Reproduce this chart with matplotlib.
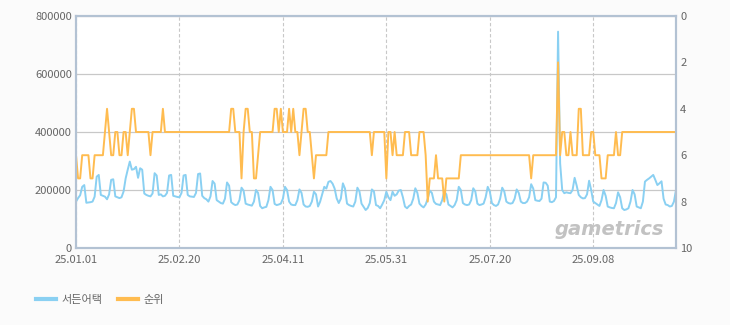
import numpy as np
import pandas as pd
import matplotlib
matplotlib.use('Agg')
import matplotlib.pyplot as plt
from matplotlib.lines import Line2D

plt.rcParams['font.family'] = ['Noto Sans CJK KR', 'DejaVu Sans']

# daily users (thousands), one row per week (Mon..Sun), starting Wed 2025-01-01
users_k = [
    160, 172, 182, 211, 217,
    156, 157, 158, 160, 177, 246, 252,
    183, 180, 177, 168, 185, 235, 237,
    178, 175, 172, 175, 195, 240, 270,
    298, 270, 272, 280, 242, 275, 270,
    188, 183, 180, 178, 188, 258, 250,
    183, 185, 178, 180, 190, 250, 252,
    180, 178, 176, 175, 190, 250, 252,
    183, 178, 177, 176, 190, 255, 257,
    180, 172, 168, 160, 178, 231, 222,
    165, 160, 155, 153, 170, 226, 215,
    158, 152, 148, 150, 165, 208, 198,
    153, 150, 148, 146, 160, 200, 190,
    145, 137, 140, 142, 165, 211, 200,
    152, 148, 150, 153, 170, 211, 200,
    160, 150, 148, 148, 165, 202, 190,
    150, 143, 142, 145, 160, 194, 185,
    143, 160, 185, 211, 205, 228, 231,
    222, 205, 171, 155, 170, 223, 205,
    153, 148, 145, 143, 160, 208, 195,
    153, 142, 131, 138, 155, 202, 195,
    148, 145, 137, 150, 165, 194, 175,
    165, 194, 180, 185, 198, 200, 175,
    143, 137, 145, 150, 170, 206, 190,
    153, 145, 140, 150, 170, 198, 190,
    160, 152, 150, 148, 165, 195, 185,
    150, 145, 140, 148, 165, 211, 200,
    155, 150, 148, 150, 165, 206, 195,
    153, 148, 150, 153, 175, 211, 195,
    155, 148, 145, 150, 170, 208, 195,
    160, 155, 153, 155, 170, 202, 190,
    160, 155, 155, 160, 175, 220, 205,
    165, 163, 162, 170, 226, 225, 215,
    160, 158, 162, 175, 746, 292, 200,
    189, 192, 190, 189, 200, 242, 215,
    183, 175, 171, 172, 185, 232, 200,
    160, 155, 150, 145, 165, 200, 180,
    143, 140, 138, 137, 155, 192, 175,
    137, 131, 133, 137, 160, 200, 185,
    143, 140, 137, 160, 229, 235, 240,
    246, 252, 235, 217, 223, 230, 170,
    150, 148, 143, 145, 160, 200,
]

rank = [
    6, 7, 7, 6, 6,
    6, 6, 7, 7, 6, 6, 6,
    6, 6, 5, 4, 5, 6, 6,
    5, 5, 6, 6, 5, 5, 6,
    5, 4, 4, 5, 5, 5, 5,
    5, 5, 5, 6, 5, 5, 5,
    5, 5, 4, 5, 5, 5, 5,
    5, 5, 5, 5, 5, 5, 5,
    5, 5, 5, 5, 5, 5, 5,
    5, 5, 5, 5, 5, 5, 5,
    5, 5, 5, 5, 5, 5, 5,
    4, 4, 5, 5, 5, 7, 5,
    4, 4, 5, 5, 7, 7, 6,
    5, 5, 5, 5, 5, 5, 5,
    4, 4, 5, 4, 5, 5, 5,
    4, 5, 4, 5, 5, 6, 5,
    4, 4, 5, 5, 6, 7, 6,
    6, 6, 6, 6, 6, 5, 5,
    5, 5, 5, 5, 5, 5, 5,
    5, 5, 5, 5, 5, 5, 5,
    5, 5, 5, 5, 5, 6, 5,
    5, 5, 5, 5, 5, 7, 5,
    5, 6, 5, 6, 6, 6, 6,
    5, 5, 5, 6, 6, 6, 6,
    5, 5, 5, 6, 8, 7, 7,
    7, 6, 7, 7, 7, 8, 7,
    7, 7, 7, 7, 7, 7, 6,
    6, 6, 6, 6, 6, 6, 6,
    6, 6, 6, 6, 6, 6, 6,
    6, 6, 6, 6, 6, 6, 6,
    6, 6, 6, 6, 6, 6, 6,
    6, 6, 6, 6, 6, 7, 6,
    6, 6, 6, 6, 6, 6, 6,
    6, 6, 6, 6, 2, 6, 5,
    5, 6, 6, 5, 6, 6, 6,
    4, 4, 6, 6, 6, 6, 5,
    5, 6, 6, 6, 7, 7, 7,
    6, 6, 6, 6, 5, 6, 6,
    5, 5, 5, 5, 5, 5, 5,
    5, 5, 5, 5, 5, 5, 5,
    5, 5, 5, 5, 5, 5, 5,
    5, 5, 5, 5, 5, 5,
]

tick_dates = pd.to_datetime(['2025-01-01', '2025-02-20', '2025-04-11',
                             '2025-05-31', '2025-07-20', '2025-09-08'])
tick_labels = [d.strftime('%y.%m.%d') for d in tick_dates]
series_names = ['서든어택', '순위']

dates = pd.date_range('2025-01-01', periods=len(users_k), freq='D')
users = np.array(users_k) * 1000

blue = '#8ad0f2'
orange = '#ffbc50'
grey = '#666666'
spine_c = '#b3c2d3'

fig = plt.figure(figsize=(7.3, 3.25), dpi=100, facecolor='#fbfbfb')
ax = fig.add_axes([76 / 730, 77 / 325, 600 / 730, 232 / 325])
ax.set_facecolor('#ffffff')
ax2 = ax.twinx()

ax.plot(dates, users, color=blue, lw=1.4, solid_joinstyle='round')
ax2.plot(dates, rank, color=orange, lw=1.4, solid_joinstyle='round')

ax.set_xlim(dates[0], dates[-1])
ax.set_ylim(0, 800000)
ax.set_yticks(range(0, 800001, 200000))
ax2.set_ylim(10, 0)
ax2.set_yticks(range(0, 11, 2))
ax.set_xticks(tick_dates)
ax.set_xticklabels(tick_labels)

ax.grid(axis='y', color='#c8c8c8', lw=0.9)
ax.grid(axis='x', color='#c8c8c8', lw=0.8, ls=(0, (3, 2)))
ax.set_axisbelow(True)

for a in (ax, ax2):
    a.tick_params(length=0, labelsize=8, labelcolor=grey, pad=3)
    for s in a.spines.values():
        s.set_color(spine_c)
        s.set_linewidth(1.5)
ax.tick_params(axis='x', pad=5)

ax.text(0.98, 0.04, 'gametrics', transform=ax.transAxes, ha='right', va='bottom',
        fontsize=14, fontweight='bold', style='italic', color='#c2c2c2',
        family='DejaVu Sans', zorder=0)

handles = [Line2D([], [], color=blue, lw=3), Line2D([], [], color=orange, lw=3)]
fig.legend(handles, series_names, loc='center left', bbox_to_anchor=(0.035, 0.077),
           ncol=2, frameon=False, handlelength=1.8, columnspacing=1.4,
           handletextpad=0.5, fontsize=8, labelcolor=grey)

fig.savefig('out.png', dpi=100, facecolor=fig.get_facecolor())
